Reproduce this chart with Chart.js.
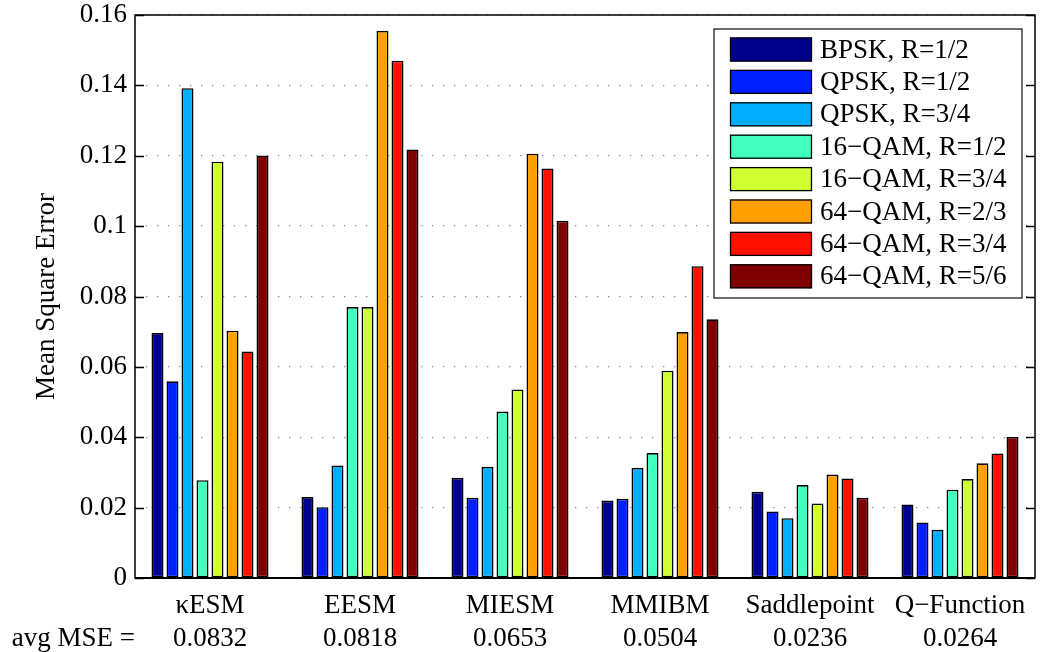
<!DOCTYPE html>
<html>
<head>
<meta charset="utf-8">
<script src="https://cdn.jsdelivr.net/npm/chart.js@4.4.1/dist/chart.umd.min.js"></script>
<style>
  html, body { margin: 0; padding: 0; background: #fff; }
  #wrap { width: 1041px; height: 652px; }
</style>
</head>
<body>
<div id="wrap"><canvas id="mseChart" width="1041" height="652"></canvas></div>
<script>
// categories and the avg MSE printed under each one
const methods = ['κESM', 'EESM', 'MIESM', 'MMIBM', 'Saddlepoint', 'Q−Function'];
const avgMse = ['0.0832', '0.0818', '0.0653', '0.0504', '0.0236', '0.0264'];
const yTicks = [0, 0.02, 0.04, 0.06, 0.08, 0.1, 0.12, 0.14, 0.16];

// one array per modulation / code rate
const seriesLabels = [
    'BPSK, R=1/2', 'QPSK, R=1/2', 'QPSK, R=3/4', '16−QAM, R=1/2',
    '16−QAM, R=3/4', '64−QAM, R=2/3', '64−QAM, R=3/4', '64−QAM, R=5/6'
];
const bpskR12  = [0.0696, 0.0230, 0.0285, 0.0220, 0.0245, 0.0209];
const qpskR12  = [0.0559, 0.0201, 0.0228, 0.0225, 0.0189, 0.0158];
const qpskR34  = [0.1392, 0.0320, 0.0316, 0.0313, 0.0170, 0.0137];
const qam16R12 = [0.0278, 0.0770, 0.0473, 0.0355, 0.0264, 0.0251];
const qam16R34 = [0.1183, 0.0770, 0.0536, 0.0589, 0.0212, 0.0281];
const qam64R23 = [0.0703, 0.1555, 0.1206, 0.0699, 0.0294, 0.0326];
const qam64R34 = [0.0644, 0.1470, 0.1164, 0.0886, 0.0283, 0.0354];
const qam64R56 = [0.1201, 0.1218, 0.1015, 0.0735, 0.0228, 0.0401];

// jet colormap steps
const colors = [
    'rgb(0, 0, 143)', 'rgb(0, 32, 255)', 'rgb(0, 175, 255)', 'rgb(64, 255, 191)',
    'rgb(207, 255, 48)', 'rgb(255, 159, 0)', 'rgb(255, 16, 0)', 'rgb(128, 0, 0)'
];

const FONT = "'Liberation Serif', 'Times New Roman', serif";
const values = [bpskR12, qpskR12, qpskR34, qam16R12, qam16R34, qam64R23, qam64R34, qam64R56];

// box around the axes + inward tick marks on both sides
const axesBox = {
    id: 'axesBox',
    afterDatasetsDraw(chart) {
        const { ctx, chartArea: a, scales: { y } } = chart;
        ctx.save();
        ctx.strokeStyle = '#000';
        ctx.lineWidth = 1.5;
        ctx.beginPath();
        y.ticks.forEach(t => {
            const py = Math.round(y.getPixelForValue(t.value)) + 0.5;
            ctx.moveTo(a.left, py);
            ctx.lineTo(a.left + 9, py);
            ctx.moveTo(a.right, py);
            ctx.lineTo(a.right - 9, py);
        });
        ctx.stroke();
        ctx.strokeRect(a.left, a.top, a.right - a.left, a.bottom - a.top);
        ctx.lineWidth = 2.2;
        ctx.beginPath();
        ctx.moveTo(a.left, a.bottom);
        ctx.lineTo(a.right, a.bottom);
        ctx.stroke();
        ctx.restore();
    }
};

// legend drawn inside the plot, top right
const insideLegend = {
    id: 'insideLegend',
    afterDraw(chart) {
        const { ctx, chartArea: a } = chart;
        const sets = chart.data.datasets;
        const boxW = 308, boxH = 269;
        const left = a.right - 13 - boxW;
        const top = a.top + 14;
        const pitch = 32.4;
        ctx.save();
        ctx.fillStyle = '#fff';
        ctx.fillRect(left, top, boxW, boxH);
        ctx.strokeStyle = '#222';
        ctx.lineWidth = 1.3;
        ctx.strokeRect(left, top, boxW, boxH);
        ctx.font = '27px ' + FONT;
        ctx.textBaseline = 'middle';
        ctx.textAlign = 'left';
        sets.forEach((ds, i) => {
            const cy = top + 20.5 + i * pitch;
            ctx.fillStyle = ds.backgroundColor;
            ctx.fillRect(left + 16, cy - 12, 82, 24);
            ctx.strokeStyle = '#000';
            ctx.lineWidth = 1.3;
            ctx.strokeRect(left + 16.5, cy - 11.5, 81, 23);
            ctx.fillStyle = '#000';
            ctx.fillText(ds.label, left + 106, cy + 1);
        });
        ctx.restore();
    }
};

// "avg MSE =" in front of the second row of x labels
const avgLabel = {
    id: 'avgLabel',
    afterDraw(chart) {
        const { ctx, chartArea: a, scales: { x } } = chart;
        ctx.save();
        ctx.font = '27px ' + FONT;
        ctx.fillStyle = '#000';
        ctx.textAlign = 'right';
        ctx.textBaseline = 'middle';
        ctx.fillText('avg MSE =', a.left, x.top + 12 + 32.4 * 1.5);
        ctx.restore();
    }
};

new Chart(document.getElementById('mseChart'), {
    type: 'bar',
    data: {
        labels: methods.map((m, i) => [m, avgMse[i]]),
        datasets: values.map((v, i) => ({
            label: seriesLabels[i],
            data: v,
            backgroundColor: colors[i],
            borderColor: '#000',
            borderWidth: 1.6,
            borderSkipped: false,
            categoryPercentage: 0.8,
            barPercentage: 0.8
        }))
    },
    options: {
        responsive: false,
        animation: false,
        devicePixelRatio: 1,
        layout: { padding: { top: 15, right: 6, left: 0, bottom: 0 } },
        plugins: {
            legend: { display: false },
            tooltip: { enabled: false }
        },
        scales: {
            x: {
                grid: { display: false, drawTicks: false },
                border: { display: false },
                ticks: {
                    color: '#000',
                    padding: 12,
                    maxRotation: 0,
                    autoSkip: false,
                    font: { family: FONT, size: 27, lineHeight: 1.2 }
                },
                afterFit(scale) { scale.height = 74; }
            },
            y: {
                min: 0,
                max: 0.16,
                afterBuildTicks(scale) {
                    scale.ticks = yTicks.map(v => ({ value: v }));
                },
                grid: {
                    color: '#8a8a8a',
                    lineWidth: 1.3,
                    drawTicks: false
                },
                border: { display: false, dash: [1.3, 9.7] },
                ticks: {
                    color: '#000',
                    padding: 8,
                    font: { family: FONT, size: 27, lineHeight: 0.5 },
                    callback: v => String(parseFloat(Number(v).toFixed(2)))
                },
                title: {
                    display: true,
                    text: 'Mean Square Error',
                    color: '#000',
                    font: { family: FONT, size: 27, lineHeight: 1.2 },
                    padding: { top: 31, bottom: 0 }
                },
                afterFit(scale) { scale.width = 135; }
            }
        }
    },
    plugins: [axesBox, insideLegend, avgLabel]
});
</script>
</body>
</html>
